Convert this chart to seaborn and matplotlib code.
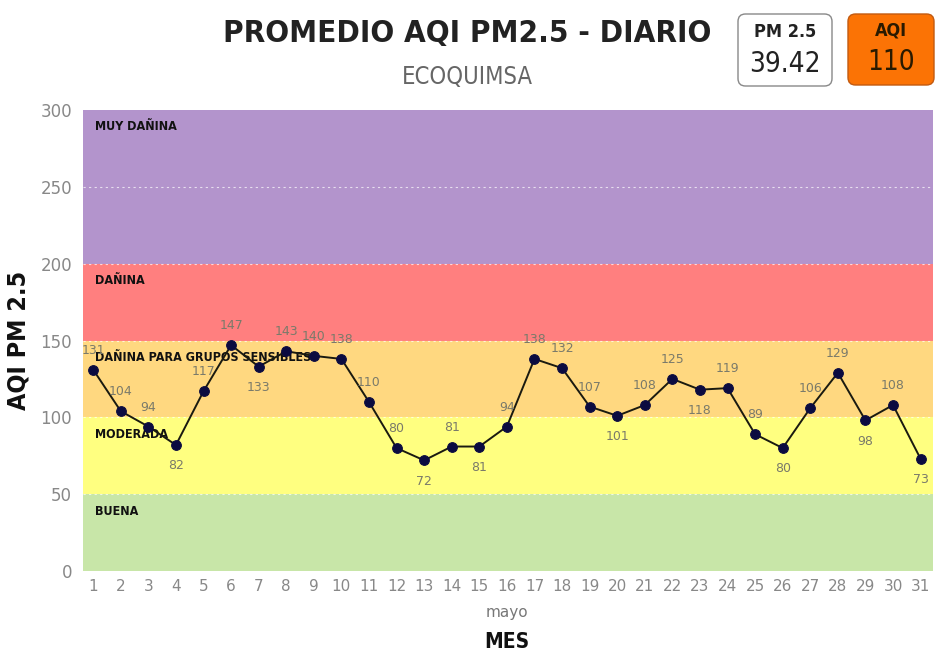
import matplotlib
matplotlib.use("Agg")
import matplotlib.pyplot as plt
import seaborn as sns
import pandas as pd
from matplotlib import font_manager
from matplotlib.patches import FancyBboxPatch

# ================= DATA =================
days = list(range(1, 32))
aqi = [131, 104, 94, 82, 117, 147, 133, 143, 140, 138, 110, 80, 72, 81, 81, 94,
       138, 132, 107, 101, 108, 125, 118, 119, 89, 80, 106, 129, 98, 108, 73]
# label above (True) or below (False) the point
label_above = [True, True, True, False, True, True, False, True, True, True, True,
               True, False, True, False, True, True, True, True, False, True, True,
               False, True, True, False, True, True, False, True, False]

band_names = ["BUENA", "MODERADA", "DAÑINA PARA GRUPOS SENSIBLES", "DAÑINA", "MUY DAÑINA"]
band_low = [0, 50, 100, 150, 200]
band_high = [50, 100, 150, 200, 300]
band_colors = ["#c8e6a8", "#ffff80", "#ffd880", "#ff7f7f", "#b394cc"]

pm25_value = "39.42"
aqi_value = "110"

# ================= FONTS =================
avail = {f.name for f in font_manager.fontManager.ttflist}
if "Liberation Sans Narrow" in avail:
    COND = "Liberation Sans Narrow"
    STRETCH = "normal"
else:
    COND = "DejaVu Sans"
    STRETCH = "condensed"

sns.set_theme(style="white")
plt.rcParams["font.family"] = [COND, "DejaVu Sans"]

df = pd.DataFrame({"dia": days, "aqi": aqi})

fig = plt.figure(figsize=(9.4, 6.58), dpi=100)
ax = fig.add_axes([83 / 940, 1 - 571 / 658, 850 / 940, 461 / 658])

# AQI bands
for lo, hi, c, name in zip(band_low, band_high, band_colors, band_names):
    ax.axhspan(lo, hi, color=c, zorder=0, lw=0)
    ax.text(1.05, hi - 11, name, fontsize=9, fontweight="bold", color="#111111",
            va="center", ha="left", fontstretch=STRETCH, zorder=1)

for y in [50, 100, 150, 200, 250]:
    ax.axhline(y, color="white", lw=0.8, ls=(0, (2, 3)), alpha=0.7, zorder=0.5)

sns.lineplot(data=df, x="dia", y="aqi", color="#1a1a10", lw=1.4, marker="o",
             markersize=7, markerfacecolor="#0b0b40", markeredgecolor="#0b0b40",
             ax=ax, zorder=3)

for d, v, up in zip(days, aqi, label_above):
    ax.annotate(str(v), (d, v), xytext=(0, 14 if up else -15),
                textcoords="offset points", ha="center", va="center",
                fontsize=9, color="#7a7a6a", zorder=4)

ax.set_xlim(0.63, 31.45)
ax.set_ylim(0, 300)
ax.set_yticks([0, 50, 100, 150, 200, 250, 300])
ax.set_xticks(days)
ax.tick_params(axis="both", length=0, labelcolor="#888888", labelsize=12, pad=8)
ax.tick_params(axis="x", labelsize=11, pad=6)
for s in ax.spines.values():
    s.set_visible(False)

ax.set_xlabel("")
ax.set_ylabel("AQI PM 2.5", fontsize=18, fontweight="bold", color="#111111",
              labelpad=10, fontstretch=STRETCH)
ax.yaxis.set_label_coords(-0.062, 0.5)

fig.text(507 / 940, 1 - 612 / 658, "mayo", ha="center", va="center",
         fontsize=11, color="#777777")
fig.text(507 / 940, 1 - 642 / 658, "MES", ha="center", va="center",
         fontsize=15, fontweight="bold", color="#111111", fontstretch=STRETCH)

# Title
fig.text(467 / 940, 1 - 33 / 658, "PROMEDIO AQI PM2.5 - DIARIO", ha="center",
         va="center", fontsize=22.5, fontweight="bold", color="#222222",
         fontstretch=STRETCH)
fig.text(467 / 940, 1 - 77 / 658, "ECOQUIMSA", ha="center", va="center",
         fontsize=17, color="#666666", fontstretch=STRETCH)

# Cards
asp = 940 / 658
card1 = FancyBboxPatch((738 / 940, 1 - 86 / 658), 94 / 940, 72 / 658,
                       boxstyle="round,pad=0,rounding_size=0.008", mutation_aspect=asp,
                       transform=fig.transFigure, facecolor="white",
                       edgecolor="#888888", lw=1.0)
card2 = FancyBboxPatch((848 / 940, 1 - 85 / 658), 86 / 940, 71 / 658,
                       boxstyle="round,pad=0,rounding_size=0.008", mutation_aspect=asp,
                       transform=fig.transFigure, facecolor="#fb7305",
                       edgecolor="#c25a10", lw=1.0)
fig.patches.extend([card1, card2])

fig.text(785 / 940, 1 - 32 / 658, "PM 2.5", ha="center", va="center",
         fontsize=13, fontweight="bold", color="#222222", fontstretch=STRETCH)
fig.text(785 / 940, 1 - 64 / 658, pm25_value, ha="center", va="center",
         fontsize=20, color="#222222", fontstretch=STRETCH)
fig.text(891 / 940, 1 - 31 / 658, "AQI", ha="center", va="center",
         fontsize=13, fontweight="bold", color="#2a1a00", fontstretch=STRETCH)
fig.text(891 / 940, 1 - 62 / 658, aqi_value, ha="center", va="center",
         fontsize=20, color="#2a1a00", fontstretch=STRETCH)

fig.savefig("out.png", dpi=100)
